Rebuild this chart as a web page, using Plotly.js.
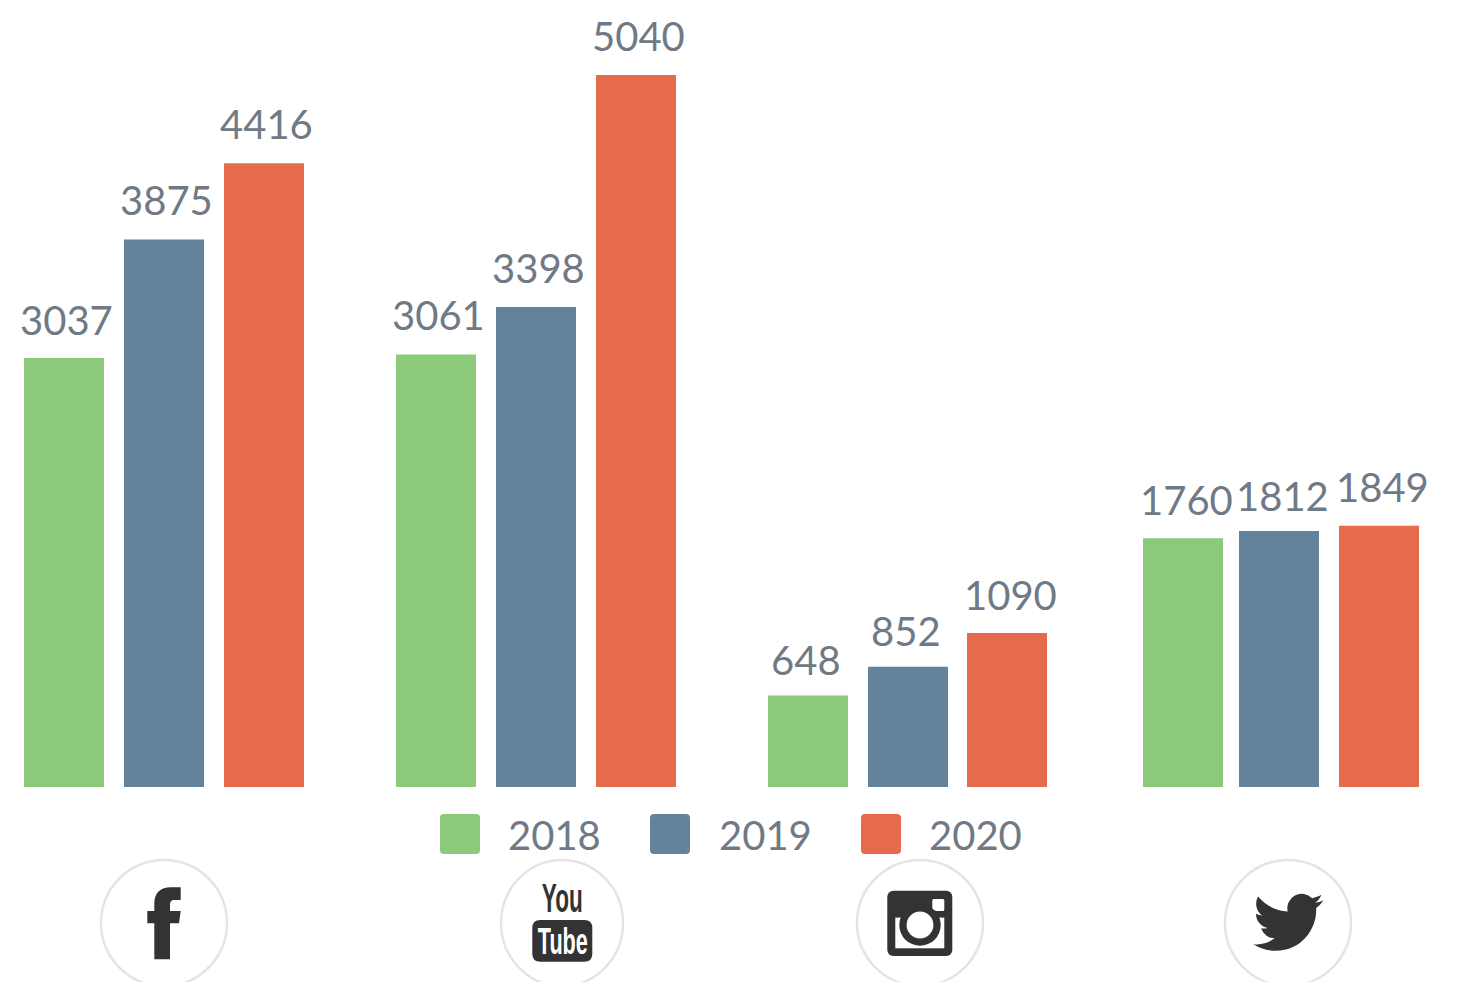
<!DOCTYPE html>
<html>
<head>
<meta charset="utf-8">
<script src="https://cdn.plot.ly/plotly-3.0.1.min.js"></script>
<style>html,body{margin:0;padding:0;background:#fff;overflow:hidden}</style>
</head>
<body>
<div id="chart" style="width:1459px;height:982px"></div>
<script>
// ---- data ----
var categories = ['Facebook', 'YouTube', 'Instagram', 'Twitter'];
var years = ['2018', '2019', '2020'];
var values2018 = [3037, 3061, 648, 1760];
var values2019 = [3875, 3398, 852, 1812];
var values2020 = [4416, 5040, 1090, 1849];

// ---- layout constants (page pixels) ----
var W = 1459, H = 982, BASE = 787;
var UNIT = 372.33, CENTER0 = 164, BAR = 80;
var colors = ['#8cc97a', '#63839c', '#e66b4c'];
var textColor = '#6f7a86', dark = '#333333', ring = '#e4e4e4';
var barLeft = [[24, 396, 768, 1143], [124, 496, 868, 1239], [224, 596, 967, 1339]];
var labelCx = [[66, 438, 806, 1186], [166, 538, 906, 1282], [266, 638, 1010, 1382]];
var labelCy = [[320, 315, 660, 500], [200, 268, 631, 496], [124, 36, 595, 487]];
var series = [values2018, values2019, values2020];

function toAxis(px) { return (px - CENTER0) / UNIT; }
function pxX(x) { return x / W; }
function pxY(y) { return (BASE - y) / BASE; }
function roundRect(x0, y0, x1, y1, r) {
  function P(x, y) { return pxX(x) + ',' + pxY(y); }
  return 'M' + P(x0 + r, y0) + ' L' + P(x1 - r, y0) + ' Q' + P(x1, y0) + ' ' + P(x1, y0 + r) +
    ' L' + P(x1, y1 - r) + ' Q' + P(x1, y1) + ' ' + P(x1 - r, y1) +
    ' L' + P(x0 + r, y1) + ' Q' + P(x0, y1) + ' ' + P(x0, y1 - r) +
    ' L' + P(x0, y0 + r) + ' Q' + P(x0, y0) + ' ' + P(x0 + r, y0) + ' Z';
}

var traces = series.map(function (vals, s) {
  return {
    type: 'bar', name: years[s], x: categories, y: vals,
    width: categories.map(function () { return BAR / UNIT; }),
    offset: categories.map(function (c, i) { return toAxis(barLeft[s][i]) - i; }),
    marker: { color: colors[s], line: { width: 0 } },
    hoverinfo: 'x+y+name'
  };
});

var labelFont = { family: 'Lato, sans-serif', size: 40, color: textColor };
var annotations = [];
series.forEach(function (vals, s) {
  vals.forEach(function (v, i) {
    annotations.push({
      x: pxX(labelCx[s][i]), y: pxY(labelCy[s][i]), xref: 'paper', yref: 'paper', text: String(v),
      showarrow: false, xanchor: 'center', yanchor: 'middle', font: labelFont
    });
  });
});

// legend
var legendSwatch = [440, 650, 861], legendText = [554, 765, 975];
var shapes = [];
years.forEach(function (yr, s) {
  shapes.push({
    type: 'path', xref: 'paper', yref: 'paper', layer: 'above',
    path: roundRect(legendSwatch[s], 814, legendSwatch[s] + 40, 854, 4),
    fillcolor: colors[s], line: { width: 0 }
  });
  annotations.push({
    xref: 'paper', yref: 'paper', x: pxX(legendText[s]), y: pxY(835), text: yr,
    showarrow: false, xanchor: 'center', yanchor: 'middle', font: labelFont
  });
});

// icon rings
[[164, 63], [562, 61], [920, 63], [1288, 63]].forEach(function (c) {
  shapes.push({
    type: 'circle', xref: 'paper', yref: 'paper', layer: 'above',
    x0: pxX(c[0] - c[1]), x1: pxX(c[0] + c[1]),
    y0: pxY(923 + 63), y1: pxY(923 - 63),
    fillcolor: 'rgba(0,0,0,0)', line: { color: ring, width: 2.5 }
  });
});

// YouTube box behind the white wordmark
shapes.push({
  type: 'path', xref: 'paper', yref: 'paper', layer: 'above',
  path: roundRect(532.3, 920, 592.3, 961.7, 8), fillcolor: dark, line: { width: 0 }
});
var wordFamily = '"Liberation Sans", Arial, sans-serif';
annotations.push({
  xref: 'paper', yref: 'paper', x: pxX(562), y: pxY(898), text: '<b>You</b>', showarrow: false,
  xanchor: 'center', yanchor: 'middle', font: { family: wordFamily, size: 40, color: dark }
});
annotations.push({
  xref: 'paper', yref: 'paper', x: pxX(563), y: pxY(941), text: '<b>Tube</b>', showarrow: false,
  xanchor: 'center', yanchor: 'middle', font: { family: wordFamily, size: 37, color: '#ffffff' }
});

// pictograms
var iconSvg =
  '<svg xmlns="http://www.w3.org/2000/svg" width="1459" height="195" viewBox="0 787 1459 195">' +
  '<path fill="' + dark + '" d="M170 959.3H154.3V923.3H147.3V911H154.3V904C154.3 893 160 887.3 171 887.3H180.7V900H175C171 900 170 901.5 170 905V911H180.7L179 923.3H170Z"/>' +
  '<rect x="887.3" y="890.7" width="65" height="65.3" rx="6" fill="' + dark + '"/>' +
  '<rect x="895.3" y="917.6" width="49" height="30.7" fill="#fff"/>' +
  '<rect x="932.3" y="899" width="12" height="12" rx="1.5" fill="#fff"/>' +
  '<circle cx="920" cy="925" r="20.7" fill="' + dark + '"/>' +
  '<circle cx="920" cy="925" r="13.4" fill="#fff"/>' +
  '<g transform="translate(1253.3 887.2) scale(2.92)"><path fill="' + dark + '" d="M23.953 4.57a10 10 0 01-2.825.775 4.958 4.958 0 002.163-2.723c-.951.555-2.005.959-3.127 1.184a4.92 4.92 0 00-8.384 4.482C7.69 8.095 4.067 6.13 1.64 3.162a4.822 4.822 0 00-.666 2.475c0 1.71.87 3.213 2.188 4.096a4.904 4.904 0 01-2.228-.616v.06a4.923 4.923 0 003.946 4.827 4.996 4.996 0 01-2.212.085 4.936 4.936 0 004.604 3.417 9.867 9.867 0 01-6.102 2.105c-.39 0-.779-.023-1.17-.067a13.995 13.995 0 007.557 2.209c9.053 0 13.998-7.496 13.998-13.985 0-.21 0-.42-.015-.63A9.935 9.935 0 0024 4.59z"/></g>' +
  '</svg>';

var layout = {
  width: W, height: H,
  margin: { l: 0, r: 0, t: 0, b: H - BASE, pad: 0 },
  paper_bgcolor: '#ffffff', plot_bgcolor: '#ffffff',
  showlegend: false, barmode: 'group',
  xaxis: { type: 'category', range: [toAxis(0), toAxis(W)], visible: false, fixedrange: true },
  yaxis: { range: [0, BASE * 5040 / 712], visible: false, fixedrange: true },
  annotations: annotations,
  shapes: shapes,
  images: [{
    source: 'data:image/svg+xml;charset=utf-8,' + encodeURIComponent(iconSvg),
    xref: 'paper', yref: 'paper', x: 0, y: 0, sizex: 1, sizey: (H - BASE) / BASE,
    xanchor: 'left', yanchor: 'top', sizing: 'stretch', layer: 'above'
  }]
};
Plotly.newPlot('chart', traces, layout, { displayModeBar: false, responsive: false }).then(function () {
  // The wordmark is a very condensed face: squeeze the two real text labels horizontally.
  var squeeze = { You: 0.565, Tube: 0.585 };
  document.querySelectorAll('#chart .annotation-text').forEach(function (t) {
    var k = squeeze[t.textContent];
    if (!k) return;
    var b = t.getBBox(), cx = b.x + b.width / 2;
    t.setAttribute('transform', 'translate(' + cx + ' 0) scale(' + k + ' 1) translate(' + (-cx) + ' 0)');
  });
});
</script>
</body>
</html>
